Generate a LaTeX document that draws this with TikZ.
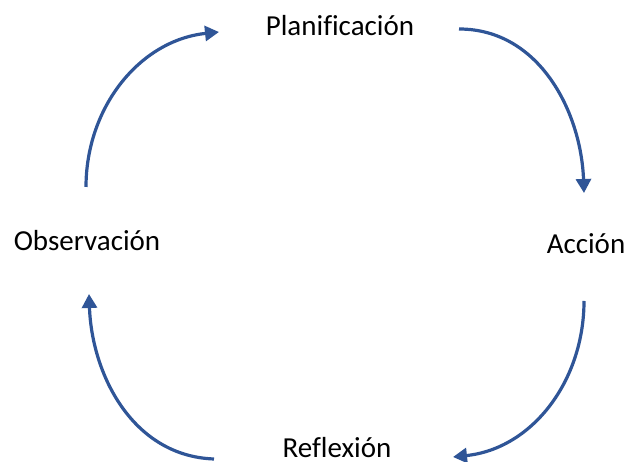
\documentclass[tikz,border=0pt]{standalone}
\usepackage{fontspec}
\setmainfont{Carlito}[Ligatures=NoCommon]
\usepackage{xcolor}
\usepackage{tikz}
\usetikzlibrary{arrows.meta,positioning,calc}
\definecolor{cycleblue}{RGB}{47,85,151}

\begin{document}
\begin{tikzpicture}[x=1pt, y=1pt,
    stage/.style={font=\fontsize{29}{34}\selectfont, inner sep=0pt},
    cyclearrow/.style={line width=3.2pt, cycleblue, -{Triangle[length=14pt, width=15pt]}}]
    \useasboundingbox (0,0) rectangle (624,462);

    % Stages
    \node[stage] (plan) at (340,436) {Planificación};
    \node[stage] (accion) at (586,218) {Acción};
    \node[stage] (reflex) at (337,14) {Reflexión};
    \node[stage] (obs) at (87,221) {Observación};

    % Arrow ends
    \coordinate (a1) at (86,275);
    \coordinate (b1) at (219,430);
    \coordinate (a2) at (459,433);
    \coordinate (b2) at (584,269);
    \coordinate (a3) at (584,161);
    \coordinate (b3) at (453,5);
    \coordinate (a4) at (214,3);
    \coordinate (b4) at (89,168);

    % Cycle
    \draw[cyclearrow] (a1) to[out=90, in=186] (b1);
    \draw[cyclearrow] (a2) to[out=0, in=92] (b2);
    \draw[cyclearrow] (a3) to[out=-90, in=6] (b3);
    \draw[cyclearrow] (a4) to[out=178, in=-88] (b4);
\end{tikzpicture}
\end{document}
